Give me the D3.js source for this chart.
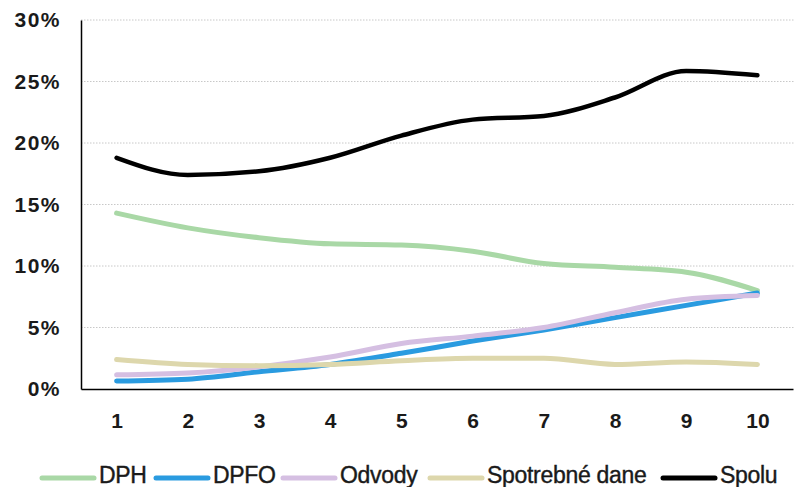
<!DOCTYPE html>
<html>
<head>
<meta charset="utf-8">
<script src="https://cdn.jsdelivr.net/npm/d3@7"></script>
<style>
  body { margin: 0; background: #fff; }
  text { font-family: "Liberation Sans Narrow", "Liberation Sans", Arial, sans-serif; }
</style>
</head>
<body>
<div id="chart"></div>
<script>
// data
const CATEGORIES = [1, 2, 3, 4, 5, 6, 7, 8, 9, 10];
const DPH = [14.3, 13.1, 12.3, 11.8, 11.7, 11.2, 10.2, 9.9, 9.5, 8.0];
const DPFO = [0.65, 0.8, 1.4, 2.0, 2.9, 3.9, 4.8, 5.8, 6.8, 7.8];
const ODVODY = [1.15, 1.3, 1.8, 2.6, 3.7, 4.3, 5.0, 6.2, 7.3, 7.6];
const SPOTREBNE = [2.4, 2.0, 1.9, 2.0, 2.3, 2.5, 2.5, 2.0, 2.2, 2.0];
const SPOLU = [18.8, 17.4, 17.7, 18.8, 20.6, 21.9, 22.2, 23.7, 25.85, 25.5];
const Y_TICKS = [0, 5, 10, 15, 20, 25, 30];

const SERIES = [
  {name: "DPH", values: DPH, color: "#a9d8a6", width: 5},
  {name: "DPFO", values: DPFO, color: "#2a9be0", width: 5},
  {name: "Odvody", values: ODVODY, color: "#d5bfe2", width: 5},
  {name: "Spotrebné dane", values: SPOTREBNE, color: "#ddd7ac", width: 5},
  {name: "Spolu", values: SPOLU, color: "#000000", width: 4.5}
];

const WIDTH = 794, HEIGHT = 487;
const MARGINS = {left: 81, right: 1, top: 20, bottom: 98};

const svg = d3.select("#chart")
  .append("svg")
    .attr("width", WIDTH)
    .attr("height", HEIGHT);

const X = d3.scalePoint()
  .domain(CATEGORIES)
  .range([MARGINS.left, WIDTH - MARGINS.right])
  .padding(0.5);

const Y = d3.scaleLinear()
  .domain([0, 30])
  .range([HEIGHT - MARGINS.bottom, MARGINS.top]);

// dotted gridlines
svg.append("g")
  .selectAll("line")
  .data(Y_TICKS.filter(d => d > 0))
  .enter()
  .append("line")
    .attr("x1", MARGINS.left)
    .attr("x2", WIDTH)
    .attr("y1", d => Y(d))
    .attr("y2", d => Y(d))
    .attr("stroke", "#c8c8c8")
    .attr("stroke-width", 1)
    .attr("stroke-dasharray", "1.5,1.5");

// y axis
const yAxis = svg.append("g")
  .attr("transform", `translate(${MARGINS.left},0)`)
  .call(d3.axisLeft(Y).tickValues(Y_TICKS).tickSize(0).tickPadding(20).tickFormat(d => d + "%"));
yAxis.select(".domain").attr("stroke", "#000").attr("stroke-width", 1.5);
yAxis.selectAll("text")
  .attr("font-size", 21)
  .attr("font-weight", "bold")
  .attr("letter-spacing", 1.5)
  .attr("fill", "#1a1a1a");

// x axis
const xAxis = svg.append("g")
  .attr("transform", `translate(0,${HEIGHT - MARGINS.bottom})`)
  .call(d3.axisBottom(X).tickSize(0).tickPadding(24));
xAxis.select(".domain").attr("stroke", "#000").attr("stroke-width", 1.5);
xAxis.selectAll("text")
  .attr("font-size", 21)
  .attr("font-weight", "bold")
  .attr("fill", "#1a1a1a");

// lines
const line = d3.line()
  .x((d, i) => X(CATEGORIES[i]))
  .y(d => Y(d))
  .curve(d3.curveMonotoneX);

svg.append("g")
  .selectAll("path")
  .data(SERIES)
  .enter()
  .append("path")
    .attr("d", d => line(d.values))
    .attr("fill", "none")
    .attr("stroke", d => d.color)
    .attr("stroke-width", d => d.width)
    .attr("stroke-linecap", "round")
    .attr("stroke-linejoin", "round");

// legend
const LEGEND_X = [42, 156, 283, 430, 663];
const legend = svg.append("g")
  .selectAll("g")
  .data(SERIES)
  .enter()
  .append("g")
    .attr("transform", (d, i) => `translate(${LEGEND_X[i]},478)`);

legend.append("line")
  .attr("x1", 0)
  .attr("x2", 52)
  .attr("stroke", d => d.color)
  .attr("stroke-width", 5)
  .attr("stroke-linecap", "round");

legend.append("text")
  .attr("x", 57)
  .attr("y", 5)
  .attr("font-size", 23)
  .attr("fill", "#1a1a1a")
  .attr("stroke", "#1a1a1a")
  .attr("stroke-width", 0.4)
  .attr("letter-spacing", -0.3)
  .text(d => d.name);
</script>
</body>
</html>
